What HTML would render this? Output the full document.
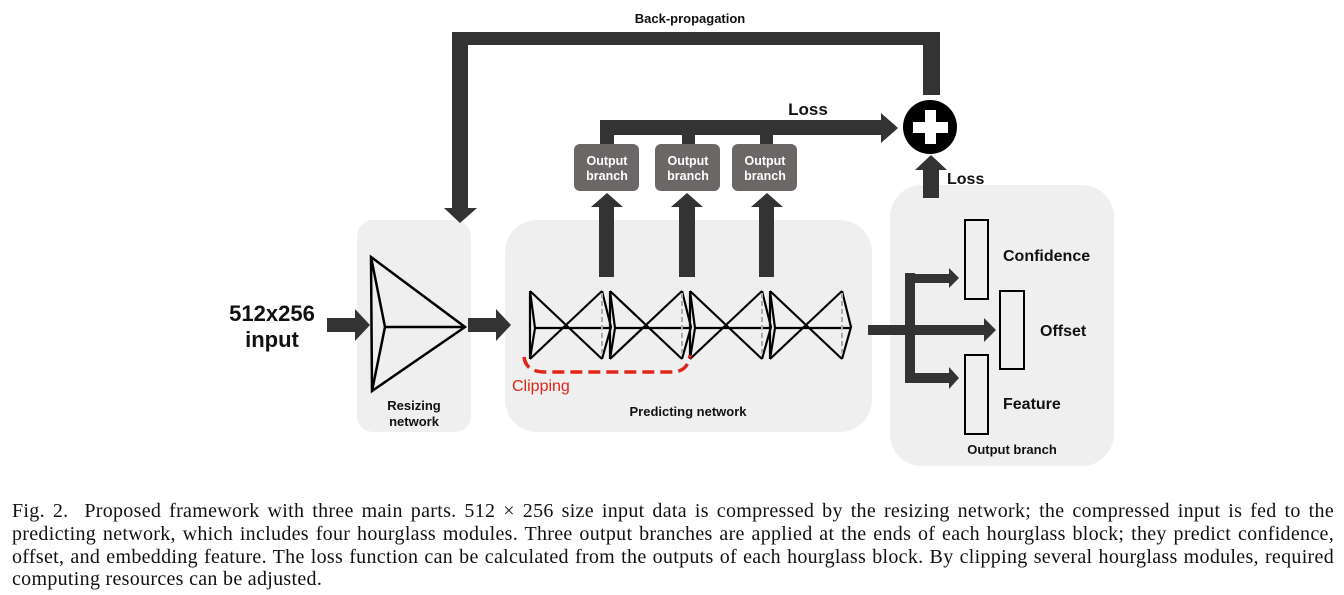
<!DOCTYPE html>
<html><head><meta charset="utf-8"><style>
body{margin:0;background:#fff;width:1344px;height:595px;overflow:hidden;}
.cap{position:absolute;left:12px;top:500px;width:1322px;font-family:"Liberation Serif",serif;font-size:20px;letter-spacing:0.3px;line-height:22.8px;color:#111;white-space:nowrap;}
.cap div{text-align:justify;text-align-last:justify;}
.cap div.l{text-align-last:left;}
</style></head><body>
<svg width="1344" height="595" style="position:absolute;left:0;top:0" font-family="Liberation Sans, sans-serif">
<rect x="357" y="220" width="114" height="212" rx="16" fill="#efefef"/>
<rect x="505" y="220" width="367" height="212" rx="32" fill="#efefef"/>
<rect x="890" y="185" width="224" height="281" rx="32" fill="#efefef"/>
<g fill="#333">
<path d="M923 95 V45 H468 V208 H477 L460 223 L444 208 H452 V32 H940 V95 Z"/>
<path d="M600 144 V120 H881 V113 L898 128 L881 143 V135 H614 V144 Z"/>
<rect x="682" y="134" width="13" height="10"/><rect x="760" y="134" width="13" height="10"/>
<path d="M599 277 V207 H591 L607 193 L623 207 H614 V277 Z"/>
<path d="M679 277 V207 H671 L687 193 L703 207 H695 V277 Z"/>
<path d="M759 277 V207 H751 L767 193 L783 207 H774 V277 Z"/>
<path d="M923 198 V170 H915 L931 155 L947 170 H939 V198 Z"/>
<path d="M327 318 H355 V309 L370 325 L355 341 V332 H327 Z"/>
<path d="M468 318 H496 V309 L511 325 L496 341 V332 H468 Z"/>
<path d="M868 325 H984 V318 L996 330 L984 342 V335 H868 Z"/>
<rect x="905" y="273" width="10" height="110"/>
<path d="M905 274 H949 V268 L959 278 L949 288 V283 H905 Z"/>
<path d="M905 373 H949 V367 L959 378 L949 389 V383 H905 Z"/>
</g>
<circle cx="930" cy="127" r="27" fill="#000"/>
<rect x="925" y="110" width="11" height="34" fill="#fff"/><rect x="913" y="122" width="35" height="11" fill="#fff"/>
<g fill="#6b6766"><rect x="574" y="144" width="65" height="47" rx="6"/><rect x="655" y="144" width="65" height="47" rx="6"/><rect x="732" y="144" width="65" height="47" rx="6"/></g>
<g fill="#fff" font-size="12.5" font-weight="bold" text-anchor="middle">
<text x="607" y="165">Output</text><text x="607" y="180">branch</text>
<text x="688" y="165">Output</text><text x="688" y="180">branch</text>
<text x="765" y="165">Output</text><text x="765" y="180">branch</text>
</g>
<g stroke="#000" stroke-width="2.5" fill="none">
<path d="M371 257 L465 327 L372 391 Z M371 257 L385 327 L372 391 M385 327 H465"/>
</g>
<g stroke="#000" stroke-width="2.2" fill="none">
<path d="M530 291 V359 M530 291 L535 328 L530 359 M530 291 L602 359 M530 359 L602 291 M535 328 H611 M602 291 L611 327 L602 359"/>
<path d="M610 291 V359 M610 291 L615 328 L610 359 M610 291 L682 359 M610 359 L682 291 M615 328 H691 M682 291 L691 327 L682 359"/>
<path d="M690 291 V359 M690 291 L695 328 L690 359 M690 291 L762 359 M690 359 L762 291 M695 328 H771 M762 291 L771 327 L762 359"/>
<path d="M770 291 V359 M770 291 L775 328 L770 359 M770 291 L842 359 M770 359 L842 291 M775 328 H851 M842 291 L851 327 L842 359"/>
</g>
<g stroke="#aaa" stroke-width="2" stroke-dasharray="5,3"><path d="M602 293 V357 M682 293 V357 M762 293 V357 M842 293 V357"/></g>
<path d="M524 357 Q526 372 545 372 H672 Q688 372 690 355" stroke="#e0261b" stroke-width="3.5" fill="none" stroke-dasharray="12,6"/>
<text x="512" y="391" fill="#e0261b" font-size="16">Clipping</text>
<g stroke="#000" stroke-width="2" fill="none"><rect x="965" y="220" width="23" height="79"/><rect x="1000" y="291" width="24" height="78"/><rect x="965" y="355" width="23" height="79"/></g>
<g font-weight="bold" fill="#111">
<text x="690" y="23" font-size="13" text-anchor="middle">Back-propagation</text>
<text x="808" y="115" font-size="17" text-anchor="middle">Loss</text>
<text x="947" y="184" font-size="16">Loss</text>
<text x="1003" y="261" font-size="16">Confidence</text>
<text x="1040" y="336" font-size="16">Offset</text>
<text x="1003" y="409" font-size="16">Feature</text>
<text x="1012" y="454" font-size="13" text-anchor="middle">Output branch</text>
<text x="414" y="410" font-size="13" text-anchor="middle">Resizing</text>
<text x="414" y="426" font-size="13" text-anchor="middle">network</text>
<text x="688" y="416" font-size="13" text-anchor="middle">Predicting network</text>
<text x="272" y="321" font-size="22" text-anchor="middle">512x256</text>
<text x="272" y="347" font-size="22" text-anchor="middle">input</text>
</g>
</svg>
<div class="cap">
<div>Fig. 2.&nbsp; Proposed framework with three main parts. 512 × 256 size input data is compressed by the resizing network; the compressed input is fed to the</div>
<div>predicting network, which includes four hourglass modules. Three output branches are applied at the ends of each hourglass block; they predict confidence,</div>
<div>offset, and embedding feature. The loss function can be calculated from the outputs of each hourglass block. By clipping several hourglass modules, required</div>
<div class="l">computing resources can be adjusted.</div>
</div>
</body></html>
